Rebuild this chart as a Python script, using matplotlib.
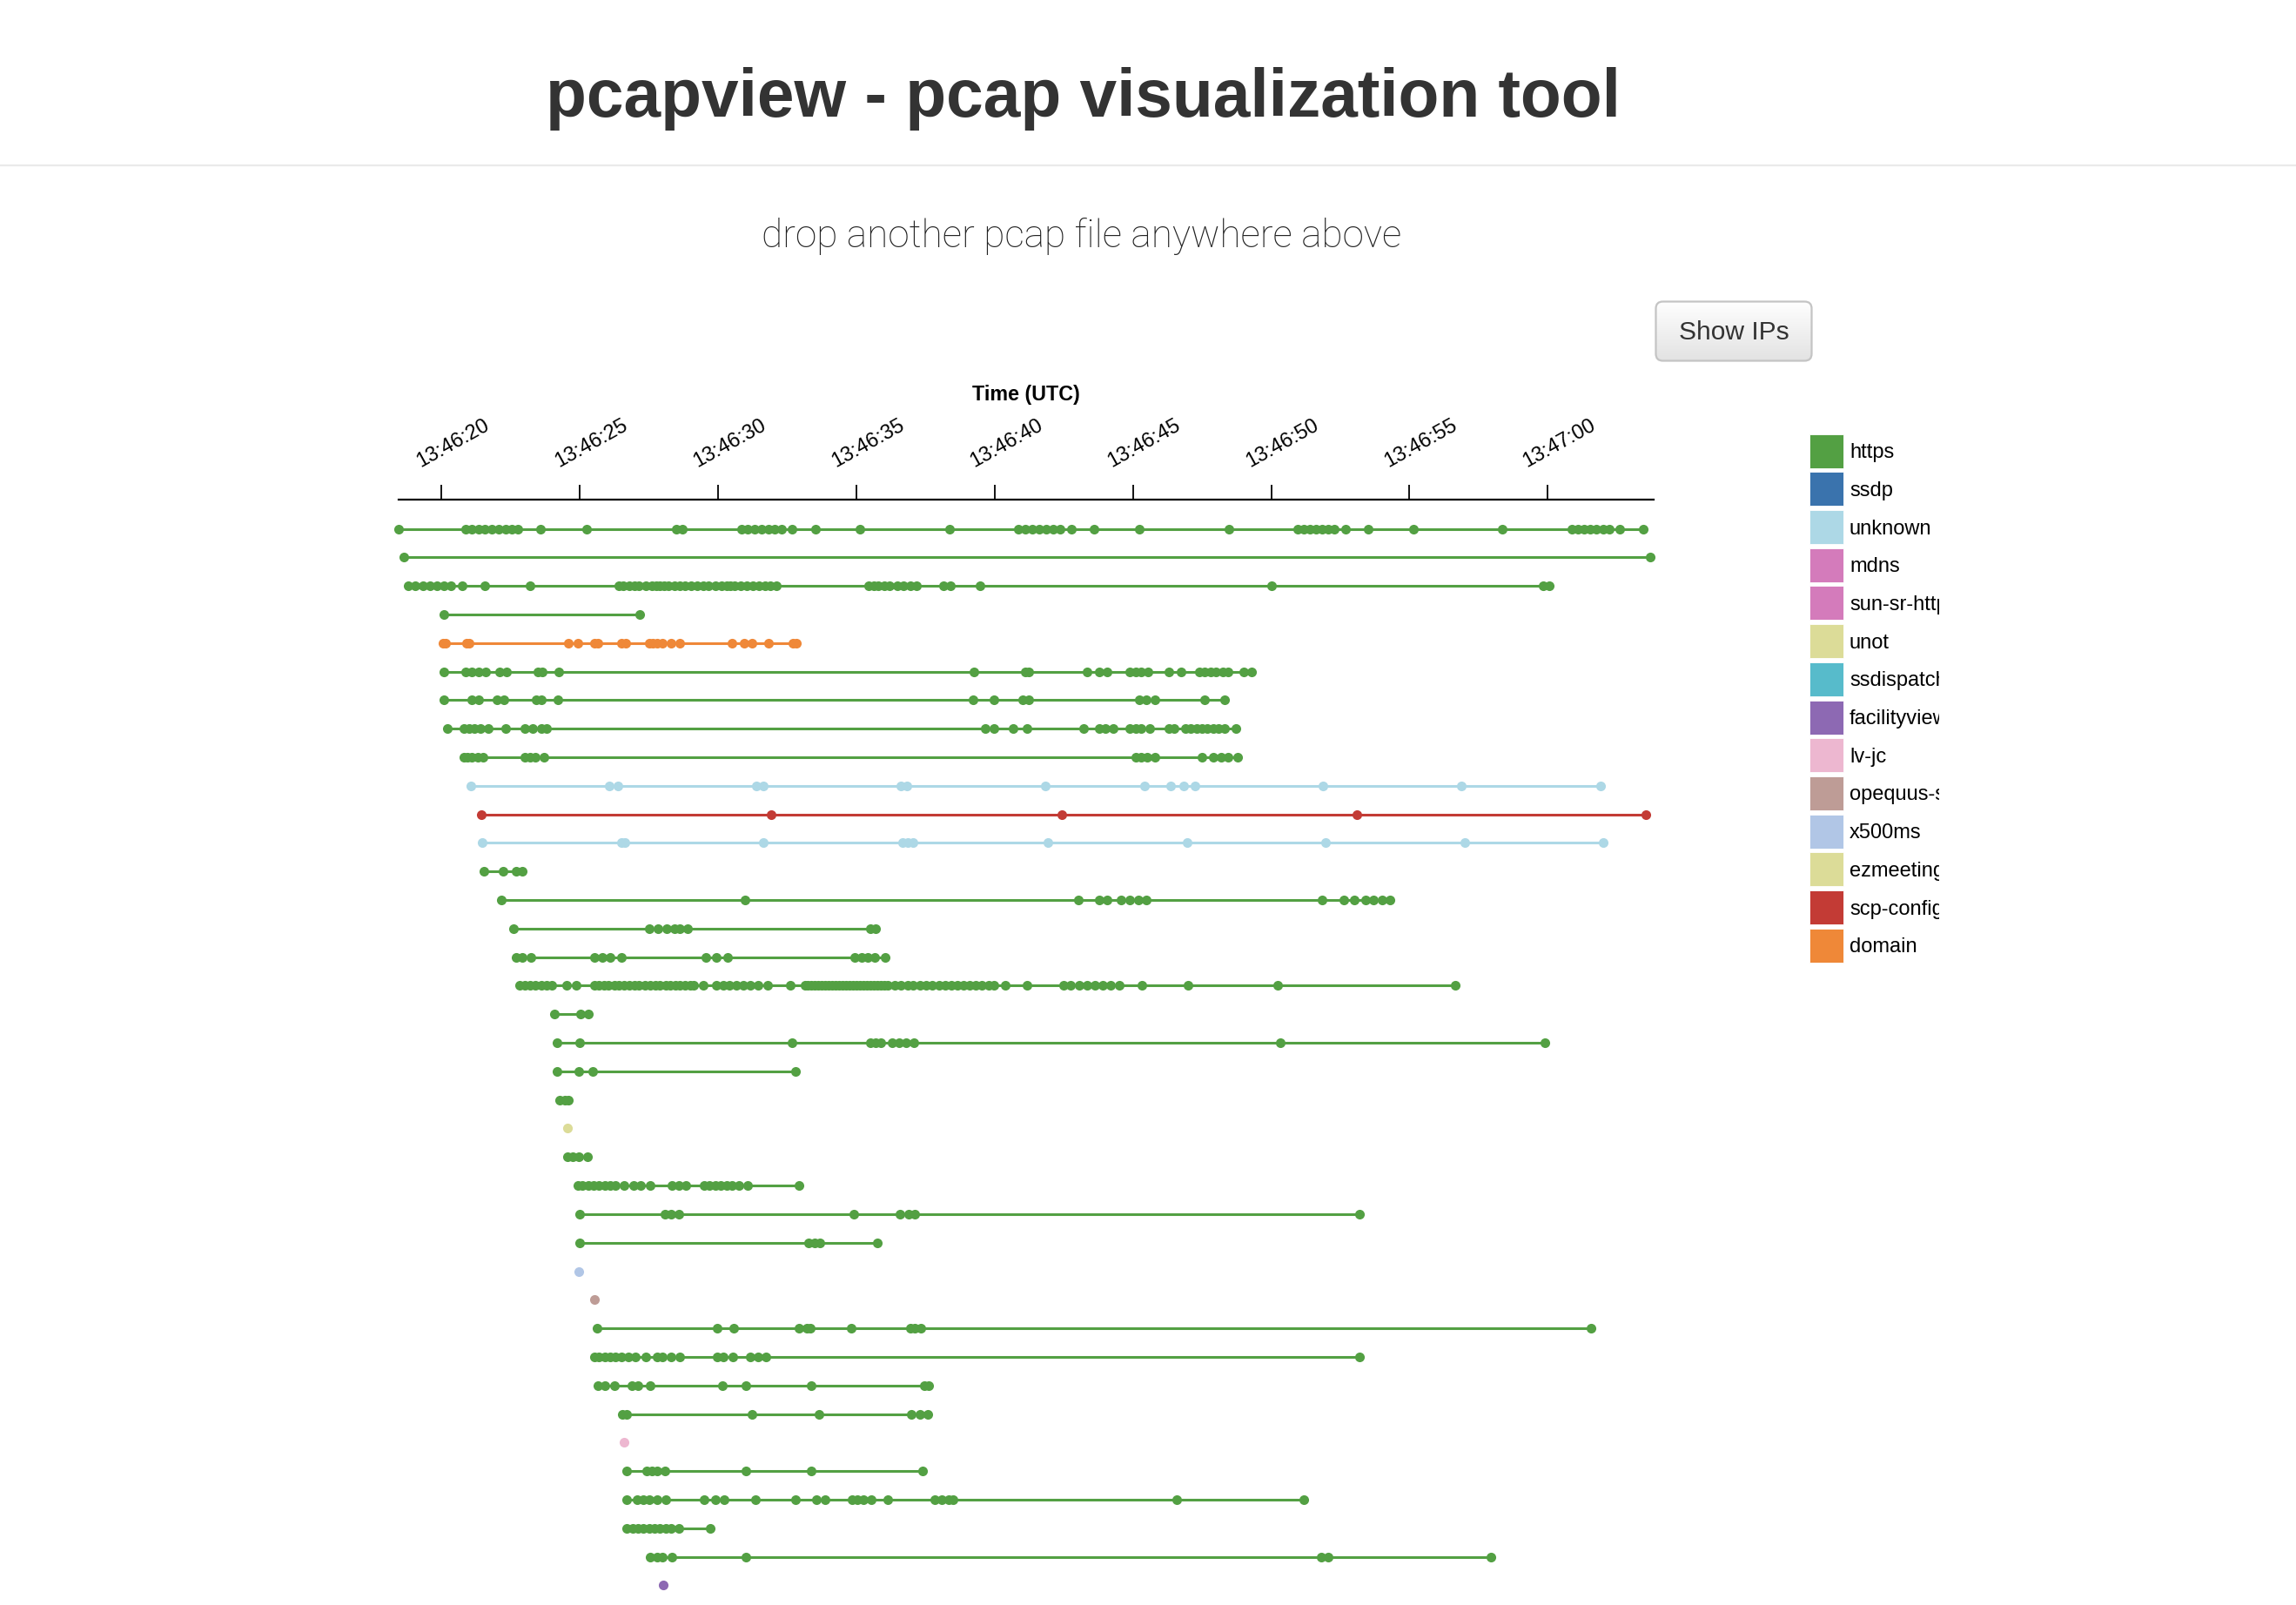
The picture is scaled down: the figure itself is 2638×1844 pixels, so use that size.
import matplotlib
matplotlib.use("Agg")
import matplotlib.pyplot as plt
from matplotlib.patches import Rectangle, FancyBboxPatch
from matplotlib.lines import Line2D
import numpy as np

# ---------------- data ----------------
protocols = ["https", "ssdp", "unknown", "mdns", "sun-sr-https", "unot", "ssdispatch",
             "facilityview", "lv-jc", "opequus-server", "x500ms", "ezmeeting-2",
             "scp-config", "domain"]
protocol_colors = ["#53a043", "#3a73ad", "#add8e6", "#d47bbb", "#d47bbb", "#dcdc98",
                   "#57bbcb", "#8d69b3", "#edb7d0", "#be9c96", "#b1c6e6", "#dcdc98",
                   "#c33b35", "#ef8838"]

tick_seconds = [20, 25, 30, 35, 40, 45, 50, 55, 60]
tick_labels = ["13:46:20", "13:46:25", "13:46:30", "13:46:35", "13:46:40",
               "13:46:45", "13:46:50", "13:46:55", "13:47:00"]

# packet timestamps, seconds after 13:46:00 UTC, one list per conversation
row01 = [18.45, 20.86, 21.10, 21.34, 21.58, 21.83, 22.07, 22.31, 22.55, 22.77, 23.59, 25.26,
         28.50, 28.70, 30.84, 31.08, 31.33, 31.57, 31.81, 32.06, 32.30, 32.68, 33.51, 35.13,
         38.38, 40.87, 41.12, 41.37, 41.62, 41.87, 42.12, 42.38, 42.78, 43.60, 45.22, 48.46,
         50.95, 51.17, 51.39, 51.61, 51.83, 52.05, 52.27, 52.70, 53.51, 55.14, 58.36, 60.88,
         61.10, 61.32, 61.54, 61.76, 61.99, 62.21, 62.61, 63.44]
row02 = [18.65, 63.70]
row03 = [18.80, 19.06, 19.32, 19.58, 19.84, 20.10, 20.34, 20.74, 21.58, 23.21, 26.42, 26.58,
         26.80, 26.98, 27.15, 27.40, 27.62, 27.78, 27.90, 28.05, 28.20, 28.42, 28.61, 28.80,
         29.02, 29.25, 29.48, 29.66, 29.90, 30.12, 30.30, 30.45, 30.60, 30.82, 31.03, 31.25,
         31.48, 31.70, 31.90, 32.10, 35.45, 35.62, 35.80, 36.02, 36.20, 36.48, 36.70, 36.95,
         37.18, 38.16, 38.40, 39.47, 50.03, 59.82, 60.05]
row04 = [20.10, 27.18]
row05 = [20.05, 20.15, 20.90, 21.00, 24.58, 24.92, 25.52, 25.65, 26.52, 26.65, 27.50, 27.65,
         27.80, 28.00, 28.30, 28.60, 30.49, 30.94, 31.24, 31.84, 32.72, 32.82]
row06 = [20.10, 20.86, 21.10, 21.34, 21.60, 22.11, 22.35, 23.47, 23.63, 24.23, 39.26, 41.10,
         41.25, 43.34, 43.78, 44.08, 44.90, 45.10, 45.30, 45.55, 46.29, 46.73, 47.39, 47.60,
         47.80, 48.00, 48.25, 48.45, 49.00, 49.30]
row07 = [20.10, 21.10, 21.34, 22.01, 22.27, 23.41, 23.61, 24.21, 39.22, 39.97, 41.01, 41.23,
         45.22, 45.49, 45.79, 47.59, 48.33]
row08 = [20.22, 20.80, 21.00, 21.20, 21.40, 21.70, 22.33, 23.01, 23.30, 23.60, 23.81, 39.66,
         39.97, 40.67, 41.17, 43.22, 43.78, 44.00, 44.28, 44.88, 45.10, 45.30, 45.60, 46.29,
         46.50, 46.89, 47.09, 47.30, 47.50, 47.70, 47.90, 48.10, 48.30, 48.72]
row09 = [20.80, 20.95, 21.10, 21.30, 21.50, 23.01, 23.20, 23.40, 23.71, 45.09, 45.30, 45.50,
         45.79, 47.49, 47.90, 48.20, 48.45, 48.80]
row10 = [21.06, 26.08, 26.38, 31.38, 31.64, 36.60, 36.82, 41.83, 45.42, 46.35, 46.83, 47.23,
         51.87, 56.89, 61.90]
row11 = [21.44, 31.92, 42.42, 53.10, 63.54]
row12 = [21.48, 26.50, 26.62, 31.64, 36.66, 36.86, 37.06, 41.93, 46.95, 51.96, 56.99, 62.00]
row13 = [21.52, 22.23, 22.71, 22.91]
row14 = [22.15, 30.96, 43.04, 43.78, 44.08, 44.58, 44.90, 45.20, 45.49, 51.85, 52.63, 53.00,
         53.40, 53.70, 54.00, 54.28]
row15 = [22.61, 27.52, 27.83, 28.13, 28.43, 28.63, 28.89, 35.50, 35.68]
row16 = [22.71, 22.91, 23.23, 25.52, 25.80, 26.10, 26.52, 29.57, 29.93, 30.33, 34.95, 35.20,
         35.40, 35.65, 36.05]
row17 = [22.81, 23.00, 23.20, 23.40, 23.60, 23.80, 24.00, 24.52, 24.86, 25.52, 25.70, 25.88,
         26.05, 26.25, 26.42, 26.60, 26.80, 26.98, 27.15, 27.35, 27.55, 27.72, 27.90, 28.10,
         28.28, 28.45, 28.62, 28.80, 28.98, 29.13, 29.47, 29.93, 30.18, 30.42, 30.66, 30.90,
         31.15, 31.44, 31.78, 32.60, 33.14, 33.25, 33.38, 33.50, 33.62, 33.75, 33.88, 34.00,
         34.12, 34.25, 34.38, 34.50, 34.62, 34.75, 34.88, 35.00, 35.12, 35.25, 35.38, 35.50,
         35.62, 35.75, 35.88, 36.00, 36.15, 36.40, 36.62, 36.85, 37.05, 37.30, 37.52, 37.75,
         37.98, 38.20, 38.42, 38.65, 38.88, 39.10, 39.32, 39.55, 39.78, 39.97, 40.37, 41.17,
         42.48, 42.76, 43.05, 43.33, 43.62, 43.90, 44.18, 44.50, 45.34, 46.99, 50.25, 56.66]
row18 = [24.07, 25.02, 25.32]
row19 = [24.18, 25.01, 32.69, 35.50, 35.70, 35.90, 36.29, 36.55, 36.80, 37.09, 50.32, 59.90]
row20 = [24.18, 24.96, 25.48, 32.79]
row21 = [24.28, 24.45, 24.60]
row22 = [24.57]
row23 = [24.57, 24.75, 24.95, 25.27]
row24 = [24.94, 25.10, 25.30, 25.50, 25.70, 25.90, 26.10, 26.30, 26.60, 26.95, 27.20, 27.54,
         28.33, 28.59, 28.85, 29.50, 29.70, 29.90, 30.10, 30.30, 30.50, 30.75, 31.07, 32.92]
row25 = [25.01, 28.07, 28.30, 28.59, 34.90, 36.57, 36.90, 37.12, 53.19]
row26 = [25.01, 33.28, 33.50, 33.67, 35.76]
row27 = [24.96]
row28 = [25.54]
row29 = [25.61, 29.97, 30.57, 32.92, 33.20, 33.34, 34.80, 36.94, 37.10, 37.33, 61.57]
row30 = [25.54, 25.70, 25.90, 26.10, 26.30, 26.50, 26.76, 27.00, 27.40, 27.81, 28.00, 28.30,
         28.60, 29.97, 30.20, 30.55, 31.15, 31.44, 31.72, 53.19]
row31 = [25.67, 25.90, 26.24, 26.89, 27.10, 27.54, 30.15, 31.00, 33.36, 37.45, 37.60]
row32 = [26.55, 26.68, 31.22, 33.65, 37.00, 37.30, 37.59]
row33 = [26.61]
row34 = [26.71, 27.41, 27.60, 27.80, 28.07, 31.00, 33.36, 37.38]
row35 = [26.71, 27.08, 27.30, 27.50, 27.80, 28.12, 29.50, 29.89, 30.23, 31.35, 32.79, 33.55,
         33.86, 34.85, 35.05, 35.24, 35.55, 36.15, 37.85, 38.10, 38.35, 38.50, 46.59, 51.18]
row36 = [26.71, 26.90, 27.10, 27.30, 27.50, 27.70, 27.90, 28.10, 28.30, 28.59, 29.71]
row37 = [27.55, 27.80, 28.00, 28.33, 31.00, 51.81, 52.07, 57.94]
row38 = [28.01]

rows = [row01, row02, row03, row04, row05, row06, row07, row08, row09, row10,
        row11, row12, row13, row14, row15, row16, row17, row18, row19, row20,
        row21, row22, row23, row24, row25, row26, row27, row28, row29, row30,
        row31, row32, row33, row34, row35, row36, row37, row38]
row_protocol = ["https", "https", "https", "https", "domain", "https", "https", "https",
                "https", "unknown", "scp-config", "unknown", "https", "https", "https",
                "https", "https", "https", "https", "https", "https", "unot", "https",
                "https", "https", "https", "x500ms", "opequus-server", "https", "https",
                "https", "https", "lv-jc", "https", "https", "https", "https", "facilityview"]

# ---------------- layout helpers (pixels of a 2638x1844 canvas) ----------------
W, H, DPI = 2638, 1844, 200
def fx(px):
    return px / W
def fy(py):
    return 1 - py / H

color_of = dict(zip(protocols, protocol_colors))
FONT = "Liberation Sans"
TXT = "#333333"

fig = plt.figure(figsize=(W / DPI, H / DPI), dpi=DPI)
fig.patch.set_facecolor("white")

# header
fig.text(fx(1244), fy(134), "pcapview - pcap visualization tool", ha="center",
         va="baseline", fontsize=27.6, fontweight="bold", color=TXT, family=FONT)
fig.add_artist(Line2D([0, 1], [fy(190), fy(190)], transform=fig.transFigure,
                      color="#eaeaea", lw=0.8))
fig.text(fx(1243), fy(284), "drop another pcap file anywhere above", ha="center",
         va="baseline", fontsize=15.9, fontweight="light", color="#222222",
         family=["Roboto", FONT])

# button
bx0, by0, bw, bh = 1901, 345, 182, 71
ax_btn = fig.add_axes([fx(bx0), fy(by0 + bh), bw / W, bh / H])
ax_btn.set_xlim(0, bw)
ax_btn.set_ylim(0, bh)
ax_btn.axis("off")
grad = np.linspace(1.0, 0.0, 64).reshape(-1, 1)
img = ax_btn.imshow(grad, extent=[0, bw, 0, bh], aspect="auto",
                    cmap=matplotlib.colors.LinearSegmentedColormap.from_list(
                        "btn", ["#e2e2e2", "#ffffff"]), origin="upper")
btn_patch = FancyBboxPatch((1.5, 1.5), bw - 3, bh - 3,
                           boxstyle="round,pad=0,rounding_size=8",
                           facecolor="none", edgecolor="#c4c4c4", lw=0.8)
ax_btn.add_patch(btn_patch)
img.set_clip_path(btn_patch)
ax_btn.text(bw / 2, bh / 2 - 1, "Show IPs", ha="center", va="center", fontsize=10.8,
            color=TXT, family=FONT)

# main timeline axes
ax_left, ax_right, ax_top = 458, 1900, 573.6
row0_y, row_step = 607.7, 32.8
ax = fig.add_axes([fx(ax_left), 0, (ax_right - ax_left) / W, 1 - ax_top / H])
ax.set_xlim(18.45, 63.83)
ax.set_ylim((H - row0_y) / row_step, (ax_top - row0_y) / row_step)
for s in ["left", "right", "bottom"]:
    ax.spines[s].set_visible(False)
ax.spines["top"].set_linewidth(0.8)
ax.spines["top"].set_color("black")
ax.set_facecolor("none")
ax.xaxis.tick_top()
ax.set_xticks(tick_seconds)
ax.tick_params(axis="x", top=True, bottom=False, direction="out", length=6.0,
               width=0.65, labeltop=False, labelbottom=False)
ax.set_yticks([])

for t, lab in zip(tick_seconds, tick_labels):
    ax.annotate(lab, xy=(t, 1.0), xycoords=("data", "axes fraction"),
                xytext=(-24, 37), textcoords="offset pixels", rotation=29,
                rotation_mode="anchor", ha="left", va="baseline", fontsize=8.5,
                family=FONT, color="black", annotation_clip=False)

ax.annotate("Time (UTC)", xy=(0.5, 1.0), xycoords="axes fraction",
            xytext=(0, 573.6 - 460), textcoords="offset pixels", ha="center",
            va="baseline", fontsize=8.4, fontweight="bold", family=FONT,
            color="black", annotation_clip=False)

for i, (times, proto) in enumerate(zip(rows, row_protocol)):
    c = color_of[proto]
    ax.plot(times, [i] * len(times), color=c, lw=1.1, marker="o", ms=4.0,
            mew=0, solid_capstyle="butt", clip_on=False)

# legend (labels clipped by the legend column like the original)
lg_x0, lg_x1, lg_y0, lg_y1 = 2079, 2228, 490, 1120
sw, sh, step, first_top = 39, 39, 43.7, 498.7
ax_leg = fig.add_axes([fx(lg_x0), fy(lg_y1), (lg_x1 - lg_x0) / W, (lg_y1 - lg_y0) / H])
ax_leg.set_xlim(lg_x0, lg_x1)
ax_leg.set_ylim(lg_y1, lg_y0)
ax_leg.axis("off")
for k, (name, col) in enumerate(zip(protocols, protocol_colors)):
    top = first_top + k * step
    ax_leg.add_patch(Rectangle((lg_x0, top), sw, sh, facecolor=col, edgecolor="white",
                               lw=0.3, clip_on=False))
    ax_leg.text(2125, top + sh / 2 + 8, name, ha="left", va="baseline", fontsize=8.5,
                family=FONT, color="black", clip_on=True)

fig.savefig("out.png", dpi=DPI, facecolor="white")
